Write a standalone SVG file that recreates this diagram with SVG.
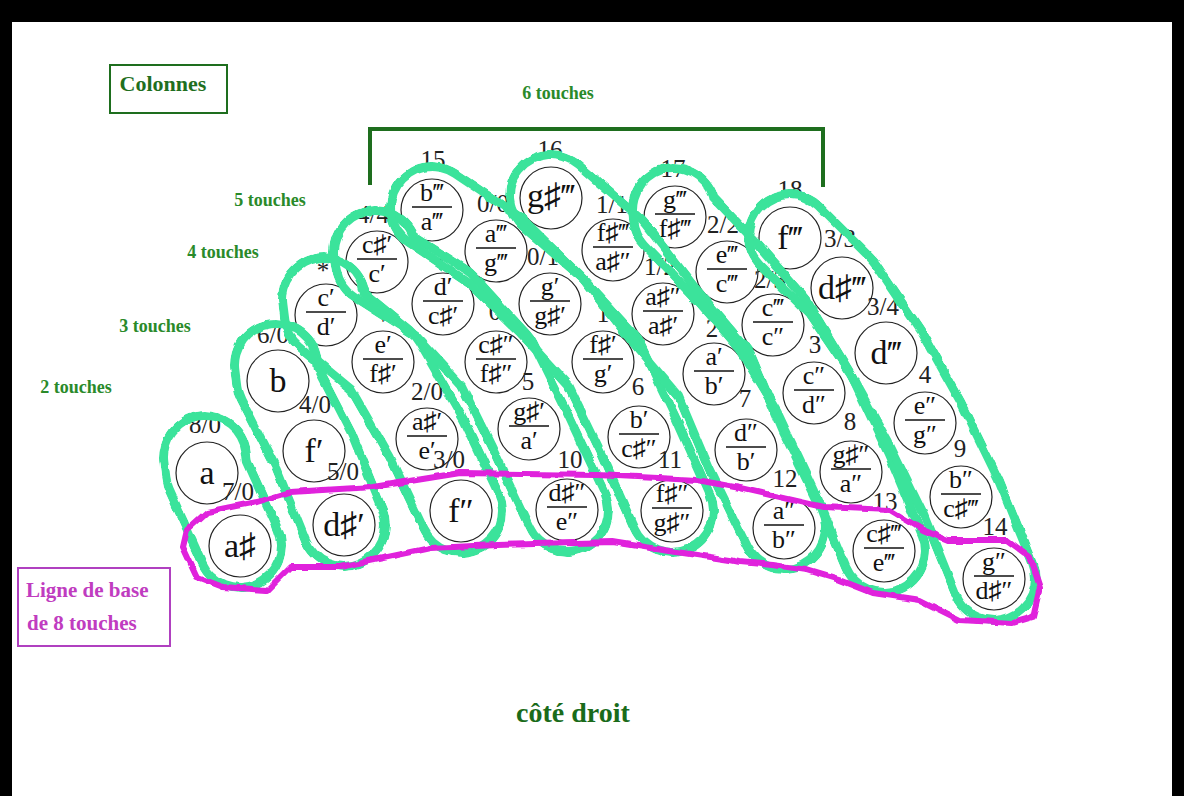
<svg xmlns="http://www.w3.org/2000/svg" xmlns:xlink="http://www.w3.org/1999/xlink" width="1184" height="796" viewBox="0 0 1184 796">
<style>
.nd circle{fill:#fff;stroke:#222;stroke-width:1.2}
.t{font-family:"Liberation Serif","DejaVu Serif",serif;font-size:26px;text-anchor:middle;fill:#111}
.big{font-family:"Liberation Serif","DejaVu Serif",serif;font-size:34px;text-anchor:middle;fill:#111}
.lb{font-family:"Liberation Serif","DejaVu Serif",serif;font-size:25px;text-anchor:middle;fill:#222}
.fl{stroke:#111;stroke-width:1.3;fill:none}
.gt{font-family:"Liberation Serif",serif;font-weight:bold;font-size:18px;fill:#2a8a2a;text-anchor:middle}
.mt{font-family:"Liberation Serif",serif;font-weight:bold;font-size:21px;fill:#c03cc0}
.loop{fill:none;stroke:#3be39b;stroke-width:92;stroke-linecap:round;stroke-linejoin:round}
.mo{fill:none;stroke:#fff;stroke-width:92;stroke-linecap:round;stroke-linejoin:round}
.mi{fill:none;stroke:#000;stroke-width:74;stroke-linecap:round;stroke-linejoin:round}
</style>
<defs>
<filter id="rough" filterUnits="userSpaceOnUse" x="0" y="0" width="1184" height="796"><feTurbulence type="fractalNoise" baseFrequency="0.06" numOctaves="2" seed="4"/><feDisplacementMap in="SourceGraphic" scale="5" xChannelSelector="R" yChannelSelector="G"/></filter>
<polyline id="pA" points="205,457 207,473 240,546"/>
<polyline id="pB" points="276,365 278,381 314,451 344,525"/>
<polyline id="pC" points="324,299 326,315 383,362 427,439 461,511"/>
<polyline id="pD" points="375,252 377,262 443,304 496,362 529,429 567,510"/>
<polyline id="pE" points="432,208 496,251 550,304 603,362 639,437 672,511"/>
<polyline id="pF" points="551,196 613,250 663,314 714,374 746,450 784,528"/>
<polyline id="pG" points="674,209 675,217 727,272 773,325 814,393 851,472 884,551"/>
<polyline id="pH" points="790,236 842,288 886,353 925,423 961,497 994,579"/>
<mask id="mA" maskUnits="userSpaceOnUse" x="0" y="0" width="1184" height="796"><use xlink:href="#pA" class="mo"/><use xlink:href="#pA" class="mi"/></mask>
<mask id="mB" maskUnits="userSpaceOnUse" x="0" y="0" width="1184" height="796"><use xlink:href="#pB" class="mo"/><use xlink:href="#pB" class="mi"/></mask>
<mask id="mC" maskUnits="userSpaceOnUse" x="0" y="0" width="1184" height="796"><use xlink:href="#pC" class="mo"/><use xlink:href="#pC" class="mi"/></mask>
<mask id="mD" maskUnits="userSpaceOnUse" x="0" y="0" width="1184" height="796"><use xlink:href="#pD" class="mo"/><use xlink:href="#pD" class="mi"/></mask>
<mask id="mE" maskUnits="userSpaceOnUse" x="0" y="0" width="1184" height="796"><use xlink:href="#pE" class="mo"/><use xlink:href="#pE" class="mi"/></mask>
<mask id="mF" maskUnits="userSpaceOnUse" x="0" y="0" width="1184" height="796"><use xlink:href="#pF" class="mo"/><use xlink:href="#pF" class="mi"/></mask>
<mask id="mG" maskUnits="userSpaceOnUse" x="0" y="0" width="1184" height="796"><use xlink:href="#pG" class="mo"/><use xlink:href="#pG" class="mi"/></mask>
<mask id="mH" maskUnits="userSpaceOnUse" x="0" y="0" width="1184" height="796"><use xlink:href="#pH" class="mo"/><use xlink:href="#pH" class="mi"/></mask>
</defs>

<rect x="0" y="0" width="1184" height="796" fill="#000"/>
<rect x="12" y="22" width="1160" height="774" fill="#fff"/>

<g id="annotations">
<rect x="110" y="65" width="117" height="48" fill="none" stroke="#1e6e1e" stroke-width="2"/>
<text x="163" y="91" class="gt" style="font-size:22px;fill:#1f6f1f">Colonnes</text>
<text x="558" y="99" class="gt">6 touches</text>
<path d="M370,185 V129 H823 V187" fill="none" stroke="#1e6e1e" stroke-width="4"/>
<text x="270" y="206" class="gt">5 touches</text>
<text x="223" y="258" class="gt">4 touches</text>
<text x="155" y="332" class="gt">3 touches</text>
<text x="76" y="393" class="gt">2 touches</text>
<rect x="18" y="568" width="152" height="78" fill="none" stroke="#b040c0" stroke-width="2"/>
<text x="26" y="597" class="mt">Ligne de base</text>
<text x="27" y="630" class="mt">de 8 touches</text>
<text x="573" y="722" class="gt" style="font-size:28px;fill:#1a6b1a">côté droit</text>
</g>

<g id="nodes" class="nd">
<g id="n-a"><circle cx="207" cy="473" r="31"/><text class="big" x="207" y="484">a</text><text class="lb" x="205" y="433">8/0</text></g>
<g id="n-as"><circle cx="240" cy="546" r="31"/><text class="big" x="240" y="557">a♯</text><text class="lb" x="238" y="500">7/0</text></g>
<g id="n-b"><circle cx="278" cy="381" r="31"/><text class="big" x="278" y="392">b</text><text class="lb" x="273" y="343">6/0</text></g>
<g id="n-f1"><circle cx="314" cy="451" r="31"/><text class="big" x="314" y="462">f′</text><text class="lb" x="315" y="413">4/0</text></g>
<g id="n-ds1"><circle cx="344" cy="525" r="31"/><text class="big" x="344" y="536">d♯′</text><text class="lb" x="343" y="480">5/0</text></g>

<g id="n-c1d1"><circle cx="326" cy="315" r="31"/><text class="t" x="326" y="306">c′</text><path class="fl" d="M306,312h40"/><text class="t" x="326" y="335">d′</text><text class="lb" x="323" y="279">*</text></g>
<g id="n-e1fs1"><circle cx="383" cy="362" r="31"/><text class="t" x="383" y="353">e′</text><path class="fl" d="M363,359h40"/><text class="t" x="383" y="382">f♯′</text><text class="lb" x="383" y="324">+</text></g>
<g id="n-as1e1"><circle cx="427" cy="439" r="31"/><text class="t" x="427" y="430">a♯′</text><path class="fl" d="M407,436h40"/><text class="t" x="427" y="459">e′</text><text class="lb" x="427" y="400">2/0</text></g>
<g id="n-f2"><circle cx="461" cy="511" r="31"/><text class="big" x="461" y="522">f″</text><text class="lb" x="449" y="468">3/0</text></g>

<g id="n-cs1c1"><circle cx="377" cy="262" r="31"/><text class="t" x="377" y="253">c♯′</text><path class="fl" d="M357,259h40"/><text class="t" x="377" y="282">c′</text><text class="lb" x="373" y="223">4/4</text></g>
<g id="n-d1cs1"><circle cx="443" cy="304" r="31"/><text class="t" x="443" y="295">d′</text><path class="fl" d="M423,301h40"/><text class="t" x="443" y="324">c♯′</text><text class="lb" x="442" y="268">+</text></g>
<g id="n-cs2fs2"><circle cx="496" cy="362" r="31"/><text class="t" x="496" y="353">c♯″</text><path class="fl" d="M476,359h40"/><text class="t" x="496" y="382">f♯″</text><text class="lb" x="495" y="320">0</text></g>
<g id="n-gs1a1"><circle cx="529" cy="429" r="31"/><text class="t" x="529" y="420">g♯′</text><path class="fl" d="M509,426h40"/><text class="t" x="529" y="449">a′</text><text class="lb" x="528" y="390">5</text></g>
<g id="n-ds2e2"><circle cx="567" cy="510" r="31"/><text class="t" x="567" y="501">d♯″</text><path class="fl" d="M547,507h40"/><text class="t" x="567" y="530">e″</text><text class="lb" x="570" y="468">10</text></g>

<g id="n-b3a3"><circle cx="432" cy="210" r="31"/><text class="t" x="432" y="201">b‴</text><path class="fl" d="M412,207h40"/><text class="t" x="432" y="230">a‴</text><text class="lb" x="433" y="168">15</text></g>
<g id="n-a3g3"><circle cx="496" cy="251" r="31"/><text class="t" x="496" y="242">a‴</text><path class="fl" d="M476,248h40"/><text class="t" x="496" y="271">g‴</text><text class="lb" x="493" y="212">0/0</text></g>
<g id="n-g1gs1"><circle cx="550" cy="304" r="31"/><text class="t" x="550" y="295">g′</text><path class="fl" d="M530,301h40"/><text class="t" x="550" y="324">g♯′</text><text class="lb" x="543" y="265">0/1</text></g>
<g id="n-fs1g1"><circle cx="603" cy="362" r="31"/><text class="t" x="603" y="353">f♯′</text><path class="fl" d="M583,359h40"/><text class="t" x="603" y="382">g′</text><text class="lb" x="603" y="322">1</text></g>
<g id="n-b1cs2"><circle cx="639" cy="437" r="31"/><text class="t" x="639" y="428">b′</text><path class="fl" d="M619,434h40"/><text class="t" x="639" y="457">c♯″</text><text class="lb" x="638" y="395">6</text></g>
<g id="n-fs2gs2"><circle cx="672" cy="511" r="31"/><text class="t" x="672" y="502">f♯″</text><path class="fl" d="M652,508h40"/><text class="t" x="672" y="531">g♯″</text><text class="lb" x="670" y="468">11</text></g>

<g id="n-gs3"><circle cx="551" cy="198" r="31"/><text class="big" x="551" y="207">g♯‴</text><text class="lb" x="550" y="158">16</text></g>
<g id="n-fs3as2"><circle cx="613" cy="250" r="31"/><text class="t" x="613" y="241">f♯‴</text><path class="fl" d="M593,247h40"/><text class="t" x="613" y="270">a♯″</text><text class="lb" x="612" y="213">1/1</text></g>
<g id="n-as2as1"><circle cx="663" cy="314" r="31"/><text class="t" x="663" y="305">a♯″</text><path class="fl" d="M643,311h40"/><text class="t" x="663" y="334">a♯′</text><text class="lb" x="660" y="275">1/2</text></g>
<g id="n-a1b1"><circle cx="714" cy="374" r="31"/><text class="t" x="714" y="365">a′</text><path class="fl" d="M694,371h40"/><text class="t" x="714" y="394">b′</text><text class="lb" x="712" y="337">2</text></g>
<g id="n-d2b1"><circle cx="746" cy="450" r="31"/><text class="t" x="746" y="441">d″</text><path class="fl" d="M726,447h40"/><text class="t" x="746" y="470">b′</text><text class="lb" x="745" y="407">7</text></g>
<g id="n-a2b2"><circle cx="784" cy="528" r="31"/><text class="t" x="784" y="519">a″</text><path class="fl" d="M764,525h40"/><text class="t" x="784" y="548">b″</text><text class="lb" x="785" y="487">12</text></g>

<g id="n-g3fs3"><circle cx="675" cy="217" r="31"/><text class="t" x="675" y="208">g‴</text><path class="fl" d="M655,214h40"/><text class="t" x="675" y="237">f♯‴</text><text class="lb" x="673" y="177">17</text></g>
<g id="n-e3c3"><circle cx="727" cy="272" r="31"/><text class="t" x="727" y="263">e‴</text><path class="fl" d="M707,269h40"/><text class="t" x="727" y="292">c‴</text><text class="lb" x="723" y="233">2/2</text></g>
<g id="n-c3c2"><circle cx="773" cy="325" r="31"/><text class="t" x="773" y="316">c‴</text><path class="fl" d="M753,322h40"/><text class="t" x="773" y="345">c″</text><text class="lb" x="770" y="288">2/3</text></g>
<g id="n-c2d2"><circle cx="814" cy="393" r="31"/><text class="t" x="814" y="384">c″</text><path class="fl" d="M794,390h40"/><text class="t" x="814" y="413">d″</text><text class="lb" x="815" y="353">3</text></g>
<g id="n-gs2a2"><circle cx="851" cy="472" r="31"/><text class="t" x="851" y="463">g♯″</text><path class="fl" d="M831,469h40"/><text class="t" x="851" y="492">a″</text><text class="lb" x="850" y="430">8</text></g>
<g id="n-cs3e3"><circle cx="884" cy="551" r="31"/><text class="t" x="884" y="542">c♯‴</text><path class="fl" d="M864,548h40"/><text class="t" x="884" y="571">e‴</text><text class="lb" x="885" y="510">13</text></g>

<g id="n-f3"><circle cx="790" cy="238" r="31"/><text class="big" x="790" y="249">f‴</text><text class="lb" x="790" y="198">18</text></g>
<g id="n-ds3"><circle cx="842" cy="288" r="31"/><text class="big" x="842" y="299">d♯‴</text><text class="lb" x="840" y="247">3/3</text></g>
<g id="n-d3"><circle cx="886" cy="353" r="31"/><text class="big" x="886" y="364">d‴</text><text class="lb" x="883" y="315">3/4</text></g>
<g id="n-e2g2"><circle cx="925" cy="423" r="31"/><text class="t" x="925" y="414">e″</text><path class="fl" d="M905,420h40"/><text class="t" x="925" y="443">g″</text><text class="lb" x="925" y="383">4</text></g>
<g id="n-b2cs3"><circle cx="961" cy="497" r="31"/><text class="t" x="961" y="488">b″</text><path class="fl" d="M941,494h40"/><text class="t" x="961" y="517">c♯‴</text><text class="lb" x="960" y="457">9</text></g>
<g id="n-g2ds2"><circle cx="994" cy="579" r="31"/><text class="t" x="994" y="570">g″</text><path class="fl" d="M974,576h40"/><text class="t" x="994" y="599">d♯″</text><text class="lb" x="995" y="535">14</text></g>
</g>

<g id="connectors">
<g id="columns" filter="url(#rough)">
<use xlink:href="#pA" class="loop" mask="url(#mA)"/>
<use xlink:href="#pB" class="loop" mask="url(#mB)"/>
<use xlink:href="#pC" class="loop" mask="url(#mC)"/>
<use xlink:href="#pD" class="loop" mask="url(#mD)"/>
<use xlink:href="#pE" class="loop" mask="url(#mE)"/>
<use xlink:href="#pF" class="loop" mask="url(#mF)"/>
<use xlink:href="#pG" class="loop" mask="url(#mG)"/>
<use xlink:href="#pH" class="loop" mask="url(#mH)"/>
</g>
<path id="baseline" filter="url(#rough)" fill="none" stroke="#e020dc" stroke-width="6" stroke-linejoin="round" d="M187,530 L207,512 L257,502 L290,492 L373,487 L460,473 L597,475 L697,480 L740,488 L823,507 L890,510 L923,530 L947,540 L1007,540 L1030,557 L1040,587 L1033,617 L1013,623 L960,620 L920,600 L873,593 L840,580 L807,570 L773,565 L740,562 L730,560 L663,550 L613,542 L497,545 L430,548 L407,553 L340,567 L290,567 L267,590 L223,587 L197,577 L183,547 Z"/>
</g>
</svg>
